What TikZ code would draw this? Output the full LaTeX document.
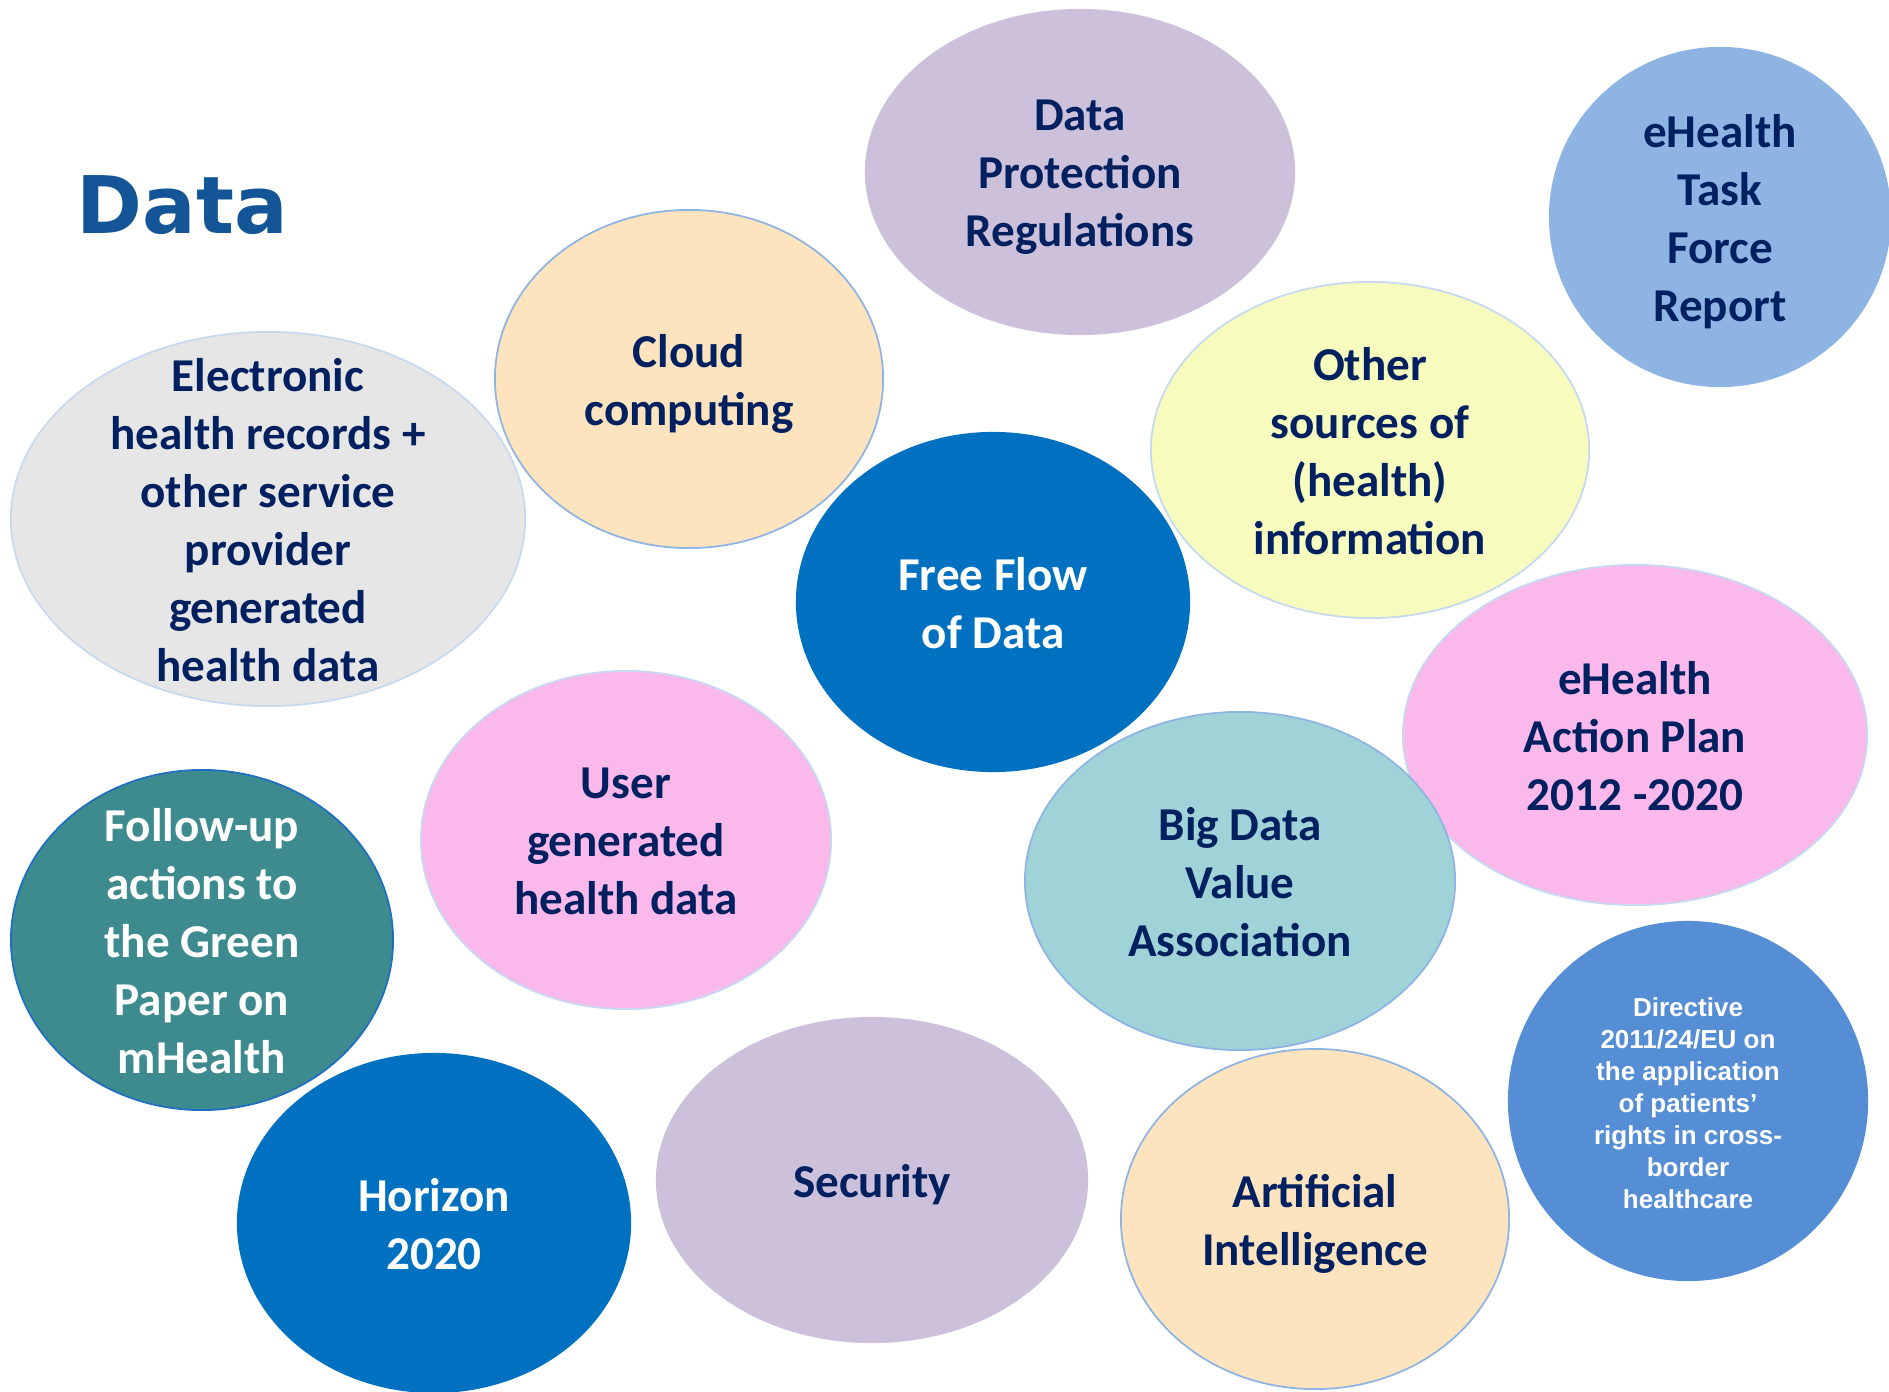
\documentclass[tikz,border=0pt]{standalone}
\usepackage{fontspec}
\setmainfont{Carlito}
\newfontfamily\arialfont{Liberation Sans}
\newfontfamily\titlefont{DejaVu Sans}
\usetikzlibrary{shapes.geometric}

\definecolor{navytext}{HTML}{002060}
\definecolor{titleblue}{HTML}{135596}
\definecolor{lavender}{HTML}{CCC0DA}
\definecolor{taskblue}{HTML}{8EB4E3}
\definecolor{peach}{HTML}{FDE4BE}
\definecolor{lightgrey}{HTML}{E6E6E6}
\definecolor{paleyellow}{HTML}{F7FBBD}
\definecolor{flowblue}{HTML}{0070C0}
\definecolor{bubblepink}{HTML}{FBB8EB}
\definecolor{paleteal}{HTML}{A0D3D8}
\definecolor{darkteal}{HTML}{3D8B8F}
\definecolor{dirblue}{HTML}{558ED5}
\definecolor{rimblue}{HTML}{8EB4E3}
\definecolor{rimpale}{HTML}{C6D9F1}
\definecolor{rimdark}{HTML}{1F6FC0}

\tikzset{
  bubble/.style={ellipse, inner sep=0pt, draw=none},
  rim/.style={draw=#1, line width=0.5pt},
  words/.style={inner sep=0pt, align=center, text=navytext, yshift=-0.06cm,
    text depth=2.7pt, font=\fontsize{13.4}{16.5}\selectfont\bfseries},
  whitewords/.style={words, text=white},
}

\begin{document}
\begin{tikzpicture}[x=0.01cm,y=-0.01cm]
\useasboundingbox (0,0) rectangle (1889,1391);
\clip (0,0) rectangle (1889,1391);

\node[inner sep=0pt, anchor=base west, text=titleblue,
      font=\titlefont\fontsize{22.6}{27}\selectfont\bfseries] (title) at (76,233) {Data};

% top row
\node[bubble, fill=lavender, minimum width=4.30cm, minimum height=3.26cm] (dpr) at (1080,172) {};
\node[words] (dpr-t) at (dpr) {Data\\Protection\\Regulations};

\node[bubble, fill=taskblue, minimum width=3.42cm, minimum height=3.40cm] (task) at (1720,217) {};
\node[words] (task-t) at (task) {eHealth\\Task\\Force\\Report};

\node[bubble, rim=rimblue, fill=peach, minimum width=3.88cm, minimum height=3.38cm] (cloud) at (689,379) {};
\node[words] (cloud-t) at (cloud) {Cloud\\computing};

\node[bubble, rim=rimpale, fill=lightgrey, minimum width=5.14cm, minimum height=3.74cm] (ehr) at (268,519) {};
\node[words] (ehr-t) at (ehr) {Electronic\\health records +\\other service\\provider\\generated\\health data};

\node[bubble, rim=rimpale, fill=paleyellow, minimum width=4.38cm, minimum height=3.36cm] (other) at (1370,450) {};
\node[words] (other-t) at (other) {Other\\sources of\\(health)\\information};

% middle
\node[bubble, fill=flowblue, minimum width=3.94cm, minimum height=3.40cm] (flow) at (993,602) {};
\node[whitewords] (flow-t) at (flow) {Free Flow\\of Data};

\node[bubble, rim=rimpale, fill=bubblepink, minimum width=4.64cm, minimum height=3.40cm] (plan) at (1635,735) {};
\node[words] (plan-t) at (plan) {eHealth\\Action Plan\\2012 -2020};

\node[bubble, rim=rimblue, fill=paleteal, minimum width=4.30cm, minimum height=3.38cm] (bigdata) at (1240,881) {};
\node[words] (bigdata-t) at (bigdata) {Big Data\\Value\\Association};

\node[bubble, rim=rimpale, fill=bubblepink, minimum width=4.10cm, minimum height=3.38cm] (user) at (626,840) {};
\node[words] (user-t) at (user) {User\\generated\\health data};

% bottom row
\node[bubble, fill=flowblue, minimum width=3.94cm, minimum height=3.40cm] (horizon) at (434,1223) {};
\node[whitewords] (horizon-t) at (horizon) {Horizon\\2020};

\node[bubble, rim=rimdark, fill=darkteal, minimum width=3.82cm, minimum height=3.40cm] (green) at (202,940) {};
\node[whitewords] (green-t) at (green) {Follow-up\\actions to\\the Green\\Paper on\\mHealth};

\node[bubble, fill=lavender, minimum width=4.32cm, minimum height=3.26cm] (security) at (872,1180) {};
\node[words] (security-t) at (security) {Security};

\node[bubble, rim=rimblue, fill=peach, minimum width=3.88cm, minimum height=3.40cm] (ai) at (1315,1219) {};
\node[words] (ai-t) at (ai) {Artificial\\Intelligence};

\node[bubble, fill=dirblue, minimum width=3.60cm, minimum height=3.60cm] (directive) at (1688,1101) {};
\node[whitewords, text depth=2.5pt, font=\arialfont\fontsize{7.4}{9.1}\selectfont\bfseries] (directive-t) at (directive)
  {Directive\\2011/24/EU on\\the application\\of patients’\\rights in cross-\\border\\healthcare};

\end{tikzpicture}
\end{document}
